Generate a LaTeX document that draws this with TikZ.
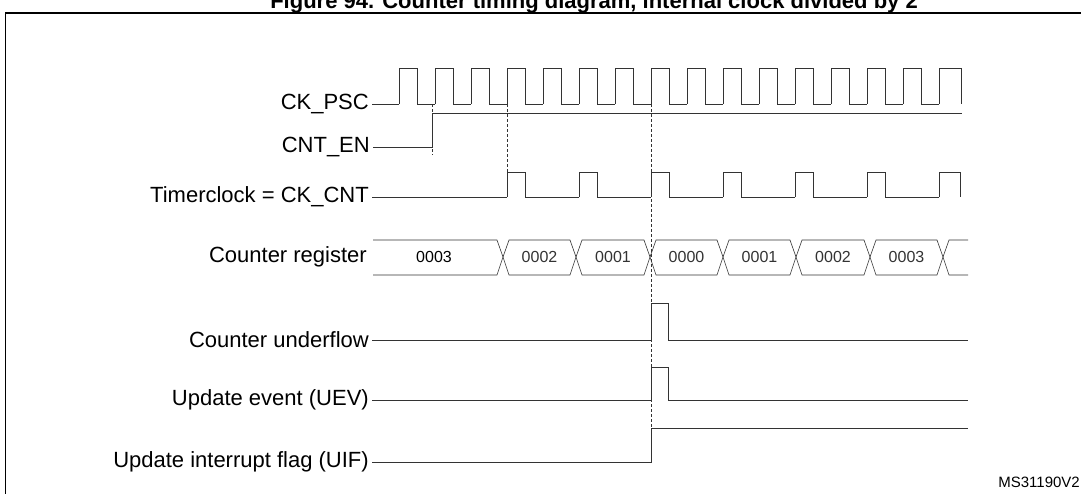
\documentclass[tikz,border=0pt]{standalone}
\usepackage{fontspec}
\setmainfont{Liberation Sans}
\usetikzlibrary{positioning}

\begin{document}
\begin{tikzpicture}[x=1pt,y=-1pt,
  sig/.style={line width=0.6pt,black!80},
  lbl/.style={anchor=east,inner sep=0pt,font=\fontsize{22}{26}\selectfont},
  val/.style={inner sep=0pt,font=\fontsize{16}{20}\selectfont}]
\useasboundingbox (0,0) rectangle (1081,493);
\node[font=\bfseries\fontsize{22}{24}\selectfont,inner sep=0pt] (title) at (594,3) {Figure 94. Counter timing diagram, internal clock divided by 2};
\draw[line width=0.6pt] (5,495) -- (5,13) -- (1085,13);
\draw[line width=1.6pt] (5,13) -- (1085,13);

\node[lbl] (ckpsc) at (369,104) {CK\_PSC};
\node[lbl] (cnten) at (370,147) {CNT\_EN};
\node[lbl] (tclk) at (369,197) {Timerclock = CK\_CNT};
\node[lbl] (creg) at (367,257) {Counter register};
\node[lbl] (uflow) at (369,340) {Counter underflow};
\node[lbl] (uev) at (369,400) {Update event (UEV)};
\node[lbl] (uif) at (369,462) {Update interrupt flag (UIF)};
\node[val,anchor=east,font=\fontsize{15}{18}\selectfont] (ms) at (1080,482) {MS31190V2};

% CK_PSC
\draw[sig] (ckpsc.east)++(3,0) -- (399,104);
\foreach \x in {399,435,...,903}
  \draw[sig] (\x,104) -- (\x,68) -- (\x+18,68) -- (\x+18,104) -- (\x+36,104);
\draw[sig] (939,104) -- (939,68) -- (961,68) -- (961,104);
% CNT_EN
\draw[sig] (cnten.east)++(3,0) -- (432,147) -- (432,113) -- (962,113);
% Timerclock
\draw[sig] (tclk.east)++(3,0) -- (507,197);
\foreach \x in {507,579,...,867}
  \draw[sig] (\x,197) -- (\x,172) -- (\x+18,172) -- (\x+18,197) -- (\x+72,197);
\draw[sig] (939,197) -- (939,172) -- (960,172) -- (960,197);
% counter register
\coordinate (c0) at (373,240);
\draw[sig] (c0) -- (497,240) -- (503,257) -- (497,275) -- (373,275);
\node[val] (v0) at (434,257) {0003};
\foreach \a/\b/\t in {503/576/0002,576/650/0001,650/723/0000,723/796/0001,796/870/0002,870/943/0003}
  \draw[sig] (\a,257) -- (\a+6,240) -- (\b-6,240) -- (\b,257) -- (\b-6,275) -- (\a+6,275) -- cycle
    node[val] at ({(\a+\b)/2},257) {\t};
\draw[sig] (943,257) -- (949,240) -- (968,240) (943,257) -- (949,275) -- (968,275);
% underflow, UEV, UIF
\draw[sig] (uflow.east)++(3,0) -- (651,340) -- (651,303) -- (668,303) -- (668,340) -- (968,340);
\draw[sig] (uev.east)++(3,0) -- (651,400) -- (651,367) -- (668,367) -- (668,400) -- (968,400);
\draw[sig] (uif.east)++(3,0) -- (651,462) -- (651,428) -- (968,428);
% dashed markers
\draw[sig,densely dashed,line width=0.5pt] (432,104) -- (432,155) (507,104) -- (507,172) (651,104) -- (651,462);
\end{tikzpicture}
\end{document}
